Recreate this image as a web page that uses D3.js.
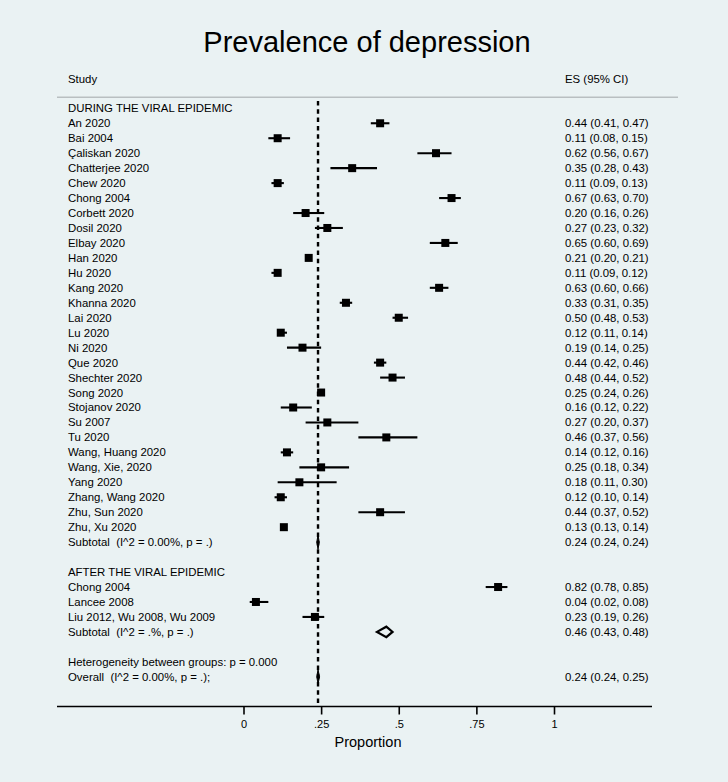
<!DOCTYPE html>
<html>
<head>
<meta charset="utf-8">
<script src="https://cdn.jsdelivr.net/npm/d3@7"></script>
<style>
  html, body { margin: 0; padding: 0; background: #eaf2f3; }
  svg { display: block; }
  text { font-family: "Liberation Sans", Arial, Helvetica, sans-serif; fill: #000; white-space: pre; }
</style>
</head>
<body>
<svg id="chart" width="728" height="782"></svg>
<script>
// ---------- data ----------
const duringStudies = ["An 2020","Bai 2004","Çaliskan 2020","Chatterjee 2020","Chew 2020","Chong 2004",
  "Corbett 2020","Dosil 2020","Elbay 2020","Han 2020","Hu 2020","Kang 2020","Khanna 2020","Lai 2020",
  "Lu 2020","Ni 2020","Que 2020","Shechter 2020","Song 2020","Stojanov 2020","Su 2007","Tu 2020",
  "Wang, Huang 2020","Wang, Xie, 2020","Yang 2020","Zhang, Wang 2020","Zhu, Sun 2020","Zhu, Xu 2020"];
const duringES = [0.44,0.11,0.62,0.35,0.11,0.67,0.20,0.27,0.65,0.21,0.11,0.63,0.33,0.50,
  0.12,0.19,0.44,0.48,0.25,0.16,0.27,0.46,0.14,0.25,0.18,0.12,0.44,0.13];
const duringLo = [0.41,0.08,0.56,0.28,0.09,0.63,0.16,0.23,0.60,0.20,0.09,0.60,0.31,0.48,
  0.11,0.14,0.42,0.44,0.24,0.12,0.20,0.37,0.12,0.18,0.11,0.10,0.37,0.13];
const duringHi = [0.47,0.15,0.67,0.43,0.13,0.70,0.26,0.32,0.69,0.21,0.12,0.66,0.35,0.53,
  0.14,0.25,0.46,0.52,0.26,0.22,0.37,0.56,0.16,0.34,0.30,0.14,0.52,0.14];
const duringSubtotal = {label: "Subtotal  (I^2 = 0.00%, p = .)", es: 0.24, lo: 0.236, hi: 0.244, text: "0.24 (0.24, 0.24)"};

const afterStudies = ["Chong 2004","Lancee 2008","Liu 2012, Wu 2008, Wu 2009"];
const afterES = [0.82,0.04,0.23];
const afterLo = [0.78,0.02,0.19];
const afterHi = [0.85,0.08,0.26];
const afterSubtotal = {label: "Subtotal  (I^2 = .%, p = .)", es: 0.46, lo: 0.43, hi: 0.48, text: "0.46 (0.43, 0.48)"};

const heterogeneity = "Heterogeneity between groups: p = 0.000";
const overall = {label: "Overall  (I^2 = 0.00%, p = .);", es: 0.24, lo: 0.236, hi: 0.245, text: "0.24 (0.24, 0.25)"};

const tickValues = [0, 0.25, 0.5, 0.75, 1];
const tickLabels = ["0", ".25", ".5", ".75", "1"];

// ---------- layout ----------
const fmt = v => v.toFixed(2);
const rows = [];
rows.push({type: "header", label: "DURING THE VIRAL EPIDEMIC"});
duringStudies.forEach((s, i) => rows.push({type: "study", label: s, es: duringES[i], lo: duringLo[i], hi: duringHi[i]}));
rows.push(Object.assign({type: "subtotal", filled: true}, duringSubtotal));
rows.push({type: "blank"});
rows.push({type: "header", label: "AFTER THE VIRAL EPIDEMIC"});
afterStudies.forEach((s, i) => rows.push({type: "study", label: s, es: afterES[i], lo: afterLo[i], hi: afterHi[i]}));
rows.push(Object.assign({type: "subtotal", filled: false}, afterSubtotal));
rows.push({type: "blank"});
rows.push({type: "header", label: heterogeneity});
rows.push(Object.assign({type: "subtotal", filled: true}, overall));

const svg = d3.select("#chart");
const x = d3.scaleLinear().domain([0, 1]).range([243.5, 554]);
const y = d3.scaleLinear().domain([0, rows.length - 1]).range([108.3, 108.3 + 14.96 * (rows.length - 1)]);
const axisY = 706.5;
const textX = 68;
const esX = 565;
const fs = 11.4;

// title
svg.append("text").attr("x", 367).attr("y", 52).attr("text-anchor", "middle")
  .style("font-size", "29px").text("Prevalence of depression");

// column headers
svg.append("text").attr("x", textX).attr("y", 79).attr("dy", "0.35em").style("font-size", fs + "px").text("Study");
svg.append("text").attr("x", esX).attr("y", 79).attr("dy", "0.35em").style("font-size", fs + "px").text("ES (95% CI)");

// separator line
svg.append("line").attr("x1", 57).attr("x2", 678).attr("y1", 97.3).attr("y2", 97.3)
  .attr("stroke", "#b9bfc1").attr("stroke-width", 1.6);

// null/overall dashed line
svg.append("line").attr("x1", x(overall.es)).attr("x2", x(overall.es)).attr("y1", 101).attr("y2", axisY)
  .attr("stroke", "#000").attr("stroke-width", 2.4).attr("stroke-dasharray", "4.5,3.8");

// row labels
rows.forEach((r, i) => {
  if (r.type === "blank") return;
  svg.append("text").attr("x", textX).attr("y", y(i)).attr("dy", "0.35em")
    .style("font-size", fs + "px").text(r.label);
  if (r.type === "study") {
    svg.append("text").attr("x", esX).attr("y", y(i)).attr("dy", "0.35em")
      .style("font-size", fs + "px").text(`${fmt(r.es)} (${fmt(r.lo)}, ${fmt(r.hi)})`);
  } else if (r.type === "subtotal") {
    svg.append("text").attr("x", esX).attr("y", y(i)).attr("dy", "0.35em")
      .style("font-size", fs + "px").text(r.text);
  }
});

// study CIs and boxes
const studyRows = rows.map((r, i) => Object.assign({idx: i}, r)).filter(r => r.type === "study");
svg.append("g").selectAll("line").data(studyRows).join("line")
  .attr("x1", d => x(d.lo)).attr("x2", d => x(d.hi))
  .attr("y1", d => y(d.idx)).attr("y2", d => y(d.idx))
  .attr("stroke", "#000").attr("stroke-width", 2.1);
const box = 8;
svg.append("g").selectAll("rect").data(studyRows).join("rect")
  .attr("x", d => x(d.es) - box / 2).attr("y", d => y(d.idx) - box / 2)
  .attr("width", box).attr("height", box).attr("fill", "#000");

// diamonds
const diaRows = rows.map((r, i) => Object.assign({idx: i}, r)).filter(r => r.type === "subtotal");
svg.append("g").selectAll("path").data(diaRows).join("path")
  .attr("d", d => {
    const cy = y(d.idx), h = d.filled ? 7 : 5.2;
    return `M${x(d.lo)},${cy}L${x(d.es)},${cy - h}L${x(d.hi)},${cy}L${x(d.es)},${cy + h}Z`;
  })
  .attr("fill", d => d.filled ? "#000" : "none")
  .attr("stroke", "#000").attr("stroke-width", d => d.filled ? 1 : 2.2)
  .attr("stroke-linejoin", "miter");

// x axis
const axis = d3.axisBottom(x).tickValues(tickValues).tickFormat((d, i) => tickLabels[i]).tickSize(8).tickPadding(6);
const gA = svg.append("g").attr("transform", `translate(0,${axisY})`).call(axis);
gA.select(".domain").remove();
gA.selectAll(".tick line").attr("stroke", "#000").attr("stroke-width", 1.6);
gA.selectAll(".tick text").style("font-size", "11px").style("font-family", "Liberation Sans, Arial, sans-serif").attr("fill", "#000");
svg.append("line").attr("x1", 57).attr("x2", 652).attr("y1", axisY).attr("y2", axisY)
  .attr("stroke", "#000").attr("stroke-width", 1.6);

svg.append("text").attr("x", 368).attr("y", 742).attr("dy", "0.35em").attr("text-anchor", "middle")
  .style("font-size", "14.5px").text("Proportion");
</script>
</body>
</html>
